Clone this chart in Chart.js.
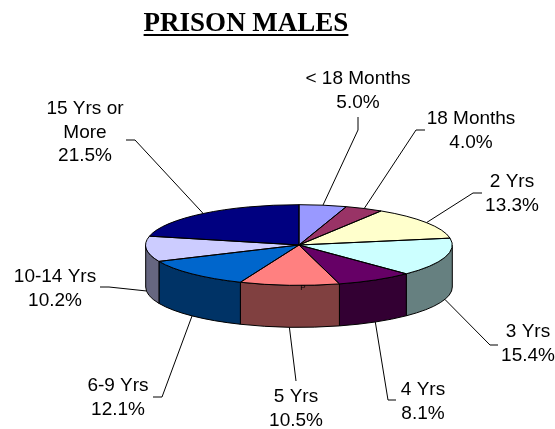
<!DOCTYPE html>
<html lang="en">
<head>
    <meta charset="UTF-8">
    <title>Prison Males</title>
    <script src="https://cdn.jsdelivr.net/npm/chart.js"></script>
    <style>
        html, body { margin: 0; padding: 0; background: #fff; }
        canvas { display: block; }
    </style>
</head>
<body>
<canvas id="pie3d" width="555" height="429"></canvas>

<script>
    const categories = ['< 18 Months', '18 Months', '2 Yrs', '3 Yrs', '4 Yrs', '5 Yrs', '6-9 Yrs', '10-14 Yrs', '15 Yrs or More'];
    const percentages = [5.0, 4.0, 13.3, 15.4, 8.1, 10.5, 12.1, 10.2, 21.5];
    const topColors = ['#9999FF', '#993366', '#FFFFCC', '#CCFFFF', '#660066', '#FF8080', '#0066CC', '#CCCCFF', '#000080'];
    const sideColors = ['#4D4D80', '#4D1A33', '#808066', '#668080', '#330033', '#804040', '#003366', '#666680', '#000040'];

    // label placement: text centre, first line y, leader elbow, leader end
    const labelPlaces = [
        { x: 358, y: 79, elbow: [358, 130], end: [358, 117] },
        { x: 471, y: 119, elbow: [416, 130], end: [425, 130] },
        { x: 512, y: 182, elbow: [473, 193], end: [482, 193] },
        { x: 528, y: 332, elbow: [490, 345], end: [498, 345] },
        { x: 423, y: 390, elbow: [388, 400], end: [396, 400] },
        { x: 296, y: 397, elbow: [296, 381], end: [296, 381] },
        { x: 118, y: 386, elbow: [162, 397], end: [153, 397] },
        { x: 55, y: 277, elbow: [109, 287], end: [100, 287] },
        { x: 85, y: 109, elbow: [135, 140], end: [126, 140] }
    ];

    const squash = 0.263;
    const depth = 42;

    function wrapLabel(text) {
        return text === '15 Yrs or More' ? ['15 Yrs or', 'More'] : [text];
    }

    const pie3d = {
        id: 'pie3d',
        beforeDatasetsDraw(chart) {
            const ctx = chart.ctx;
            const arcs = chart.getDatasetMeta(0).data;

            // walls of the front half, behind the top
            arcs.forEach((arc, i) => {
                const ry = arc.outerRadius * squash;
                // angles run from -PI/2 to 3PI/2, front is 0..PI
                const a0 = Math.max(arc.startAngle, 0);
                const a1 = Math.min(arc.endAngle, Math.PI);
                if (a1 <= a0) return;
                ctx.beginPath();
                ctx.ellipse(arc.x, arc.y, arc.outerRadius, ry, 0, a0, a1);
                ctx.ellipse(arc.x, arc.y + depth, arc.outerRadius, ry, 0, a1, a0, true);
                ctx.closePath();
                ctx.fillStyle = sideColors[i];
                ctx.fill();
                ctx.lineWidth = 1;
                ctx.strokeStyle = '#000';
                ctx.stroke();
            });

            ctx.save();
            ctx.translate(0, arcs[0].y);
            ctx.scale(1, squash);
            ctx.translate(0, -arcs[0].y);
        },
        afterDatasetsDraw(chart) {
            const ctx = chart.ctx;
            const arcs = chart.getDatasetMeta(0).data;
            ctx.restore();

            arcs.forEach((arc) => {
                const ry = arc.outerRadius * squash;
                ctx.beginPath();
                ctx.moveTo(arc.x, arc.y);
                ctx.ellipse(arc.x, arc.y, arc.outerRadius, ry, 0, arc.startAngle, arc.endAngle);
                ctx.closePath();
                ctx.lineWidth = 1;
                ctx.strokeStyle = '#000';
                ctx.stroke();
            });

            // leader lines and labels
            ctx.fillStyle = '#000';
            ctx.textAlign = 'center';
            ctx.textBaseline = 'middle';
            ctx.font = '19px "Liberation Sans"';
            arcs.forEach((arc, i) => {
                const place = labelPlaces[i];
                const mid = (arc.startAngle + arc.endAngle) / 2;
                const sx = arc.x + arc.outerRadius * Math.cos(mid);
                let sy = arc.y + arc.outerRadius * squash * Math.sin(mid);
                if (Math.sin(mid) > 0) sy += depth;
                ctx.beginPath();
                ctx.moveTo(sx, sy);
                ctx.lineTo(place.elbow[0], place.elbow[1]);
                ctx.lineTo(place.end[0], place.end[1]);
                ctx.lineWidth = 1;
                ctx.strokeStyle = '#000';
                ctx.stroke();

                const lines = wrapLabel(categories[i]).concat(percentages[i].toFixed(1) + '%');
                lines.forEach((line, n) => ctx.fillText(line, place.x, place.y + n * 23.5));
            });

            ctx.font = '8px "Liberation Sans"';
            ctx.fillText('P', 303, 288);

            // title, underlined by hand
            ctx.font = 'bold 27px "Liberation Serif"';
            ctx.textBaseline = 'alphabetic';
            ctx.fillText('PRISON MALES', 246, 31);
            const w = ctx.measureText('PRISON MALES').width;
            ctx.fillRect(246 - w / 2, 34, w, 2);
        }
    };

    new Chart(document.getElementById('pie3d').getContext('2d'), {
        type: 'pie',
        data: {
            labels: categories,
            datasets: [{
                data: percentages,
                backgroundColor: topColors,
                borderWidth: 0,
                clip: false
            }]
        },
        options: {
            responsive: false,
            animation: false,
            radius: 153.3,
            layout: { padding: { left: 43, top: 61 } },
            plugins: {
                legend: { display: false },
                tooltip: { enabled: false }
            }
        },
        plugins: [pie3d]
    });
</script>
</body>
</html>
